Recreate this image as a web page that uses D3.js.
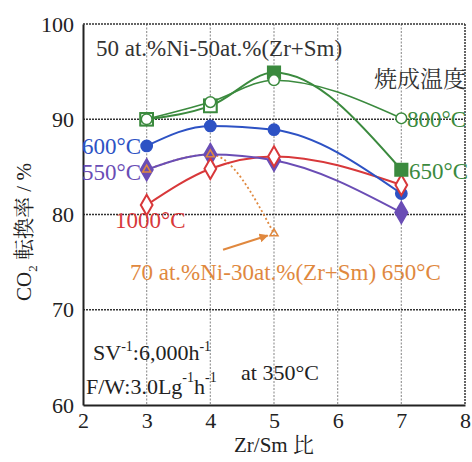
<!DOCTYPE html>
<html><head><meta charset="utf-8">
<script src="https://cdn.jsdelivr.net/npm/d3@7"></script>
<style>body{margin:0;background:#fff}svg{display:block}</style>
</head><body>
<svg id="c" width="472" height="462"></svg>
<script>
const xRatio = [3, 4, 5, 7];
const s800 = [90.0, 91.8, 94.1, 90.1];
const s650 = [90.0, 91.4, 94.9, 84.7];
const s600 = [87.2, 89.3, 88.9, 82.2];
const s550 = [84.7, 86.3, 85.7, 80.2];
const s1000 = [81.0, 84.8, 86.1, 83.1];
const xNi70 = [3, 4, 5];
const sNi70 = [84.7, 86.3, 78.0];
const xTicks = [2, 3, 4, 5, 6, 7, 8];
const yTicks = [60, 70, 80, 90, 100];

const SERIF = "'Liberation Serif', 'Times New Roman', Tinos, 'DejaVu Serif', serif";
const CJK = "'Noto Serif CJK JP', 'Noto Sans CJK JP', sans-serif";

const svg = d3.select("#c").attr("font-family", SERIF);
const x = d3.scaleLinear().domain([2, 8]).range([83, 465]);
const y = d3.scaleLinear().domain([60, 100]).range([405, 24]);

const cGreen = "#3b8a3e", cBlue = "#2d52c4", cPurple = "#6a4db5", cRed = "#d8383a", cOrange = "#e0883e";

// grid
const g = svg.append("g");
g.selectAll(".vg").data([3,4,5,6,7]).join("line")
  .attr("x1", d=>x(d)).attr("x2", d=>x(d)).attr("y1", y(100)).attr("y2", y(60))
  .attr("stroke", "#999").attr("stroke-width", 1.2).attr("stroke-dasharray", "2,1.5");
g.selectAll(".hg").data([70,80,90]).join("line")
  .attr("x1", x(2)).attr("x2", x(8)).attr("y1", d=>y(d)).attr("y2", d=>y(d))
  .attr("stroke", "#333").attr("stroke-width", 1.3).attr("stroke-dasharray", "2,1");
g.append("line").attr("x1", x(2)).attr("x2", x(8)).attr("y1", y(100)).attr("y2", y(100))
  .attr("stroke", "#333").attr("stroke-width", 1.5).attr("stroke-dasharray", "2,1");
g.append("line").attr("x1", x(8)).attr("x2", x(8)).attr("y1", y(100)).attr("y2", y(60))
  .attr("stroke", "#333").attr("stroke-width", 1.5).attr("stroke-dasharray", "2,1");

// axes
const xAxis = svg.append("g").attr("transform", `translate(0,${y(60)})`)
  .call(d3.axisBottom(x).tickValues(xTicks).tickSize(0).tickPadding(7).tickFormat(d3.format("d")));
const yAxis = svg.append("g").attr("transform", `translate(${x(2)},0)`)
  .call(d3.axisLeft(y).tickValues(yTicks).tickSize(0).tickPadding(9).tickFormat(d3.format("d")));
[xAxis, yAxis].forEach(a => {
  a.attr("font-family", SERIF).attr("font-size", 22);
  a.select(".domain").attr("stroke", "#222").attr("stroke-width", 2);
  a.selectAll("text").attr("fill", "#222");
});

const lineS = d3.line().curve(d3.curveMonotoneX).x(d=>x(d[0])).y(d=>y(d[1]));
const zip = (xs, ys) => xs.map((v,i)=>[v, ys[i]]);

function drawLine(xs, ys, color, dash, w) {
  svg.append("path").attr("d", lineS(zip(xs, ys))).attr("fill", "none")
    .attr("stroke", color).attr("stroke-width", w || 2).attr("stroke-dasharray", dash || null);
}
drawLine(xNi70, sNi70, cOrange, "2,2.5", 1.8);
drawLine(xRatio, s1000, cRed);
drawLine(xRatio, s550, cPurple);
drawLine(xRatio, s600, cBlue);
drawLine(xRatio, s650, cGreen);
drawLine(xRatio, s800, cGreen, null, 1.6);

const sym = (type, size) => d3.symbol().type(type).size(size)();
function markers(xs, ys, type, size, fill, stroke, sw) {
  svg.append("g").selectAll("path").data(zip(xs, ys)).join("path")
    .attr("transform", d=>`translate(${x(d[0])},${y(d[1])})`)
    .attr("d", sym(type, size)).attr("fill", fill).attr("stroke", stroke).attr("stroke-width", sw || 1.5);
}
markers(xRatio, s550, d3.symbolDiamond, 140, cPurple, cPurple);
markers(xRatio, s600, d3.symbolCircle, 100, cBlue, cBlue);
markers(xRatio, s1000, d3.symbolDiamond, 120, "#fff", cRed, 2);
markers(xRatio, s650, d3.symbolSquare, 160, cGreen, cGreen);
markers(xRatio.slice(0,2), s650.slice(0,2), d3.symbolSquare, 160, "#fff", cGreen, 2);
markers(xRatio, s800, d3.symbolCircle, 90, "#fff", cGreen, 1.5);
markers(xNi70, sNi70, d3.symbolTriangle, 28, "none", cOrange, 1.5);

// labels
function txt(tx, ty, s, color, size, anchor) {
  return svg.append("text").attr("x", tx).attr("y", ty).attr("fill", color)
    .attr("font-size", size).attr("text-anchor", anchor || "start").text(s);
}
txt(96, 56, "50 at.%Ni-50at.%(Zr+Sm)", "#333", 23);
txt(466, 87, "焼成温度", "#333", 23, "end").attr("font-family", CJK);
txt(407, 127, "800°C", cGreen, 23);
txt(409, 179, "650°C", cGreen, 23);
txt(82, 154, "600°C", cBlue, 23);
txt(82, 180, "550°C", cPurple, 23);
txt(115, 228, "1000°C", cRed, 23);
txt(130, 280, "70 at.%Ni-30at.%(Zr+Sm) 650°C", cOrange, 23);

// arrow
svg.append("defs").append("marker").attr("id", "ah").attr("viewBox", "0 0 10 10")
  .attr("refX", 9).attr("refY", 5).attr("markerWidth", 4.5).attr("markerHeight", 4.5).attr("orient", "auto")
  .append("path").attr("d", "M0,0L10,5L0,10z").attr("fill", cOrange);
svg.append("line").attr("x1", x(4.2)).attr("y1", y(76.3)).attr("x2", x(4.9)).attr("y2", y(77.8))
  .attr("stroke", cOrange).attr("stroke-width", 2).attr("marker-end", "url(#ah)");

// conditions
const t1 = txt(93, 360, "", "#222", 22);
t1.append("tspan").text("SV");
t1.append("tspan").attr("dy", -9).attr("font-size", 14).text("-1");
t1.append("tspan").attr("dy", 9).text(":6,000h");
t1.append("tspan").attr("dy", -9).attr("font-size", 14).text("-1");
const t2 = txt(86, 394, "", "#222", 22);
t2.append("tspan").text("F/W:3.0Lg");
t2.append("tspan").attr("dy", -12).attr("font-size", 14).text("-1");
t2.append("tspan").attr("dy", 12).text("h");
t2.append("tspan").attr("dy", -12).attr("font-size", 14).text("-1");
txt(241, 380, "at 350°C", "#222", 22);

// axis titles
const xt = txt(274, 452, "Zr/Sm ", "#222", 21, "middle");
xt.append("tspan").text("比").attr("font-family", CJK);
const yt = svg.append("text").attr("transform", "translate(31,232) rotate(-90)")
  .attr("text-anchor", "middle").attr("fill", "#222").attr("font-size", 21);
yt.append("tspan").text("CO");
yt.append("tspan").attr("font-size", 13).attr("dy", 6).text("2");
yt.append("tspan").attr("dy", -6).text(" 転換率").attr("font-family", CJK);
yt.append("tspan").text(" / %");
</script>
</body></html>
